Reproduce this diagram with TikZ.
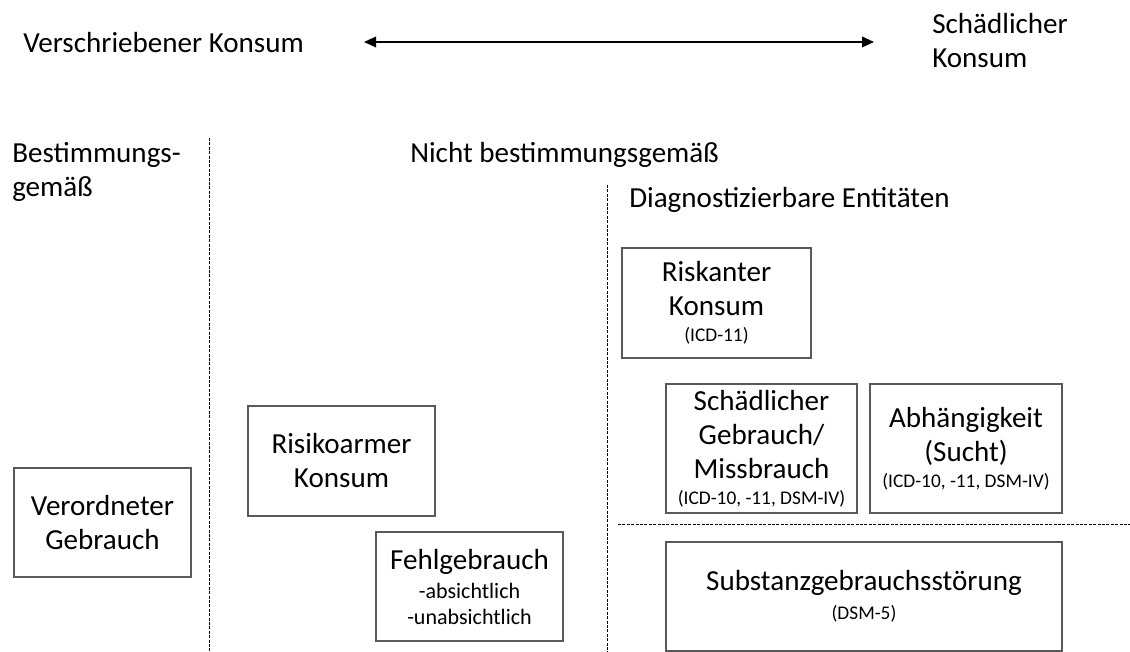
\documentclass[tikz,border=0pt]{standalone}
\usepackage{fontspec}
\setmainfont{Carlito}
\usetikzlibrary{arrows.meta}
\newcommand\smalltxt{\fontsize{14.5}{17}\selectfont}
\newcommand\subtxt{\fontsize{16.5}{19}\selectfont}
\begin{document}
\begin{tikzpicture}[x=0.75pt,y=-0.75pt,
  lbl/.style={inner sep=0pt, anchor=base west, font=\fontsize{21.8}{25.5}\selectfont, align=left},
  entity/.style={draw=black!65, line width=0.8pt, inner sep=0pt, align=center,
    font=\fontsize{21.8}{25.5}\selectfont},
  sep/.style={line width=0.7pt, dash pattern=on 2.2pt off 1.1pt},
  ]
\useasboundingbox (0,0) rectangle (1130,652);

% header
\node[lbl] (presc) at (23,53) {Verschriebener Konsum};
\node[lbl] (harm) at (932,68) {Schädlicher\\Konsum};
\coordinate (al) at (364,42);
\coordinate (ar) at (874,42);
\draw[line width=1.1pt, {Triangle[length=9pt,width=8pt]}-{Triangle[length=9pt,width=8pt]}] (al) -- (ar);

% column headings
\node[lbl] (best) at (12,197) {Bestimmungs-\\gemäß};
\node[lbl] (nicht) at (410,163) {Nicht bestimmungsgemäß};
\node[lbl] (diag) at (629,208) {Diagnostizierbare Entitäten};

% separators
\coordinate (v1t) at (209,138); \coordinate (v1b) at (209,652);
\coordinate (v2t) at (607,185); \coordinate (v2b) at (607,652);
\coordinate (hl) at (618,524); \coordinate (hr) at (1130,524);
\draw[sep] (v1t) -- (v1b);
\draw[sep] (v2t) -- (v2b);
\draw[sep] (hl) -- (hr);

% boxes
\node[entity, minimum width=177*0.75pt, minimum height=109*0.75pt] (verord) at (102.5,522.5)
  {Verordneter\\Gebrauch};
\node[entity, minimum width=187*0.75pt, minimum height=110*0.75pt] (riskarm) at (341.5,461)
  {Risikoarmer\\Konsum};
\node[entity, minimum width=187*0.75pt, minimum height=109*0.75pt] (fehl) at (469.5,586.5)
  {Fehlgebrauch\\[-3.75pt]{\subtxt -absichtlich}\\[-6pt]{\subtxt -unabsichtlich}};
\node[entity, minimum width=189*0.75pt, minimum height=110*0.75pt] (riskant) at (716.5,303)
  {Riskanter\\Konsum\\[-6pt]{\smalltxt (ICD-11)}};
\node[entity, minimum width=191*0.75pt, minimum height=129*0.75pt] (schaed) at (761.5,448.5)
  {Schädlicher\\Gebrauch/\\Missbrauch\\[-6pt]{\smalltxt (ICD-10, -11, DSM-IV)}};
\node[entity, minimum width=192*0.75pt, minimum height=129*0.75pt] (abh) at (966,448.5)
  {Abhängigkeit\\(Sucht)\\[-6pt]{\smalltxt (ICD-10, -11, DSM-IV)}};
\node[entity, minimum width=396*0.75pt, minimum height=109*0.75pt] (subst) at (864,596.5)
  {Substanzgebrauchsstörung\\[-3.75pt]{\smalltxt (DSM-5)}};
\end{tikzpicture}
\end{document}
